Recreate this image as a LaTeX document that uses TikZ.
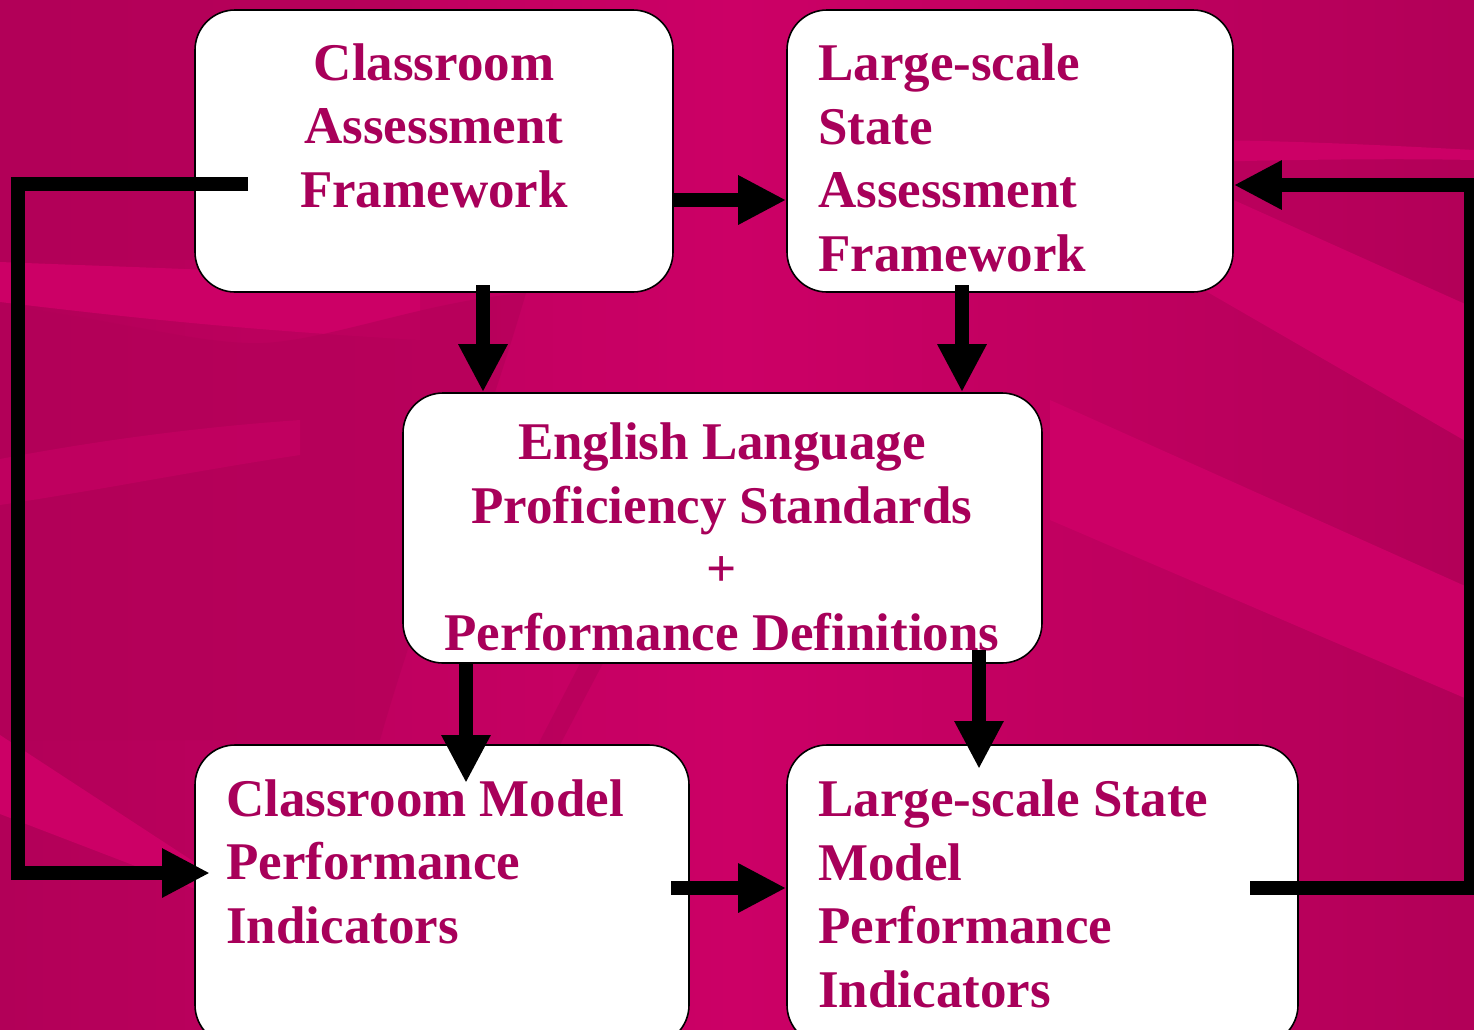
\documentclass[tikz,border=0pt]{standalone}
\usepackage{fontspec}
\setmainfont{Liberation Serif}
\usetikzlibrary{arrows.meta}
\definecolor{bgdark}{RGB}{178,0,88}
\definecolor{bglight}{RGB}{204,0,102}
\definecolor{txt}{RGB}{168,0,90}
\tikzset{
  box/.style={draw=black, line width=1.6pt, fill=white, rounded corners=40pt, inner sep=0pt},
  lbl/.style={text=txt, font=\fontsize{53}{63.5}\selectfont\bfseries, inner sep=0pt},
  arr/.style={line width=14pt, line join=miter, -{Triangle[length=48pt,width=46pt]}},
  band/.style={fill=bglight, draw=none},
}
\begin{document}
\begin{tikzpicture}[x=1pt,y=-1pt]
\clip (0,0) rectangle (1474,1029);
\useasboundingbox (0,0) rectangle (1474,1029);
% background
\shade[left color=bgdark, right color=bgdark, middle color=bglight] (0,0) rectangle (1474,1029);
\fill[bgdark, opacity=0.6] (0,0) rectangle (420,260);
\fill[band] (0,262) .. controls (150,268) and (250,270) .. (420,282) -- (420,340) .. controls (250,330) and (150,320) .. (0,302) -- cycle;
\fill[bgdark, opacity=0.6] (0,305) .. controls (120,320) and (200,345) .. (263,343) .. controls (330,340) and (430,300) .. (526,293) .. controls (480,450) and (420,600) .. (380,740) -- (0,740) -- cycle;
\fill[band, opacity=0.5] (0,459) .. controls (100,440) and (200,427) .. (300,420) -- (300,455) .. controls (200,470) and (100,490) .. (0,505) -- cycle;
\fill[band] (0,735) -- (450,1029) -- (560,1029) -- (0,814) -- cycle;
\fill[bgdark, opacity=0.6] (587,650) -- (610,650) -- (552,760) -- (530,760) -- cycle;
\fill[band] (1100,140) .. controls (1250,138) and (1380,145) .. (1474,150) -- (1474,160) .. controls (1380,158) and (1250,160) .. (1100,165) -- cycle;
\fill[band] (1100,140) -- (1474,308) -- (1474,446) -- (1100,230) -- cycle;
\fill[band] (1050,400) -- (1474,590) -- (1474,702) -- (1050,520) -- cycle;
% boxes
\node[box, minimum width=478pt, minimum height=282pt] (b1) at (434,151) {};
\node[box, minimum width=446pt, minimum height=282pt] (b2) at (1010,151) {};
\node[box, minimum width=639pt, minimum height=270pt] (b3) at (722.5,528) {};
\node[box, minimum width=494pt, minimum height=300pt] (b4) at (442,895) {};
\node[box, minimum width=511pt, minimum height=300pt] (b5) at (1042.5,895) {};
% texts (anchor = baseline of the last line)
\node[lbl, anchor=base, align=center] (t1) at (434,207) {Classroom\\Assessment\\Framework};
\node[lbl, anchor=base west, align=left] (t2) at (818,271) {Large-scale\\State\\Assessment\\Framework};
\node[lbl, anchor=base, align=center] (t3) at (722,650) {English Language\\Proficiency Standards\\+\\Performance Definitions};
\node[lbl, anchor=base west, align=left] (t4) at (226,943) {Classroom Model\\Performance\\Indicators};
\node[lbl, anchor=base west, align=left] (t5) at (818,1007) {Large-scale State\\Model\\Performance\\Indicators};
% route points
\coordinate (l0) at (248,184);
\coordinate (l1) at (18,184);
\coordinate (l2) at (18,873);
\coordinate (l3) at (210,873);
\coordinate (r0) at (1250,888);
\coordinate (r1) at (1471,888);
\coordinate (r2) at (1471,185);
% connectors
\draw[arr] (b1.east |- 0,200) -- (b2.west |- 0,200);
\draw[arr] (l0) -- (l1) -- (l2) -- (l3);
\draw[arr] (r0) -- (r1) -- (r2) -- (b2.east |- r2);
\draw[arr] (483,285) coordinate (d1) -- (d1 |- b3.north);
\draw[arr] (962,285) coordinate (d2) -- (d2 |- b3.north);
\draw[arr] (466,663) coordinate (d3) -- (466,783);
\draw[arr] (979,650) coordinate (d4) -- (979,769);
\draw[arr] (671,888) coordinate (d5) -- (d5 -| b5.west);
\end{tikzpicture}
\end{document}
